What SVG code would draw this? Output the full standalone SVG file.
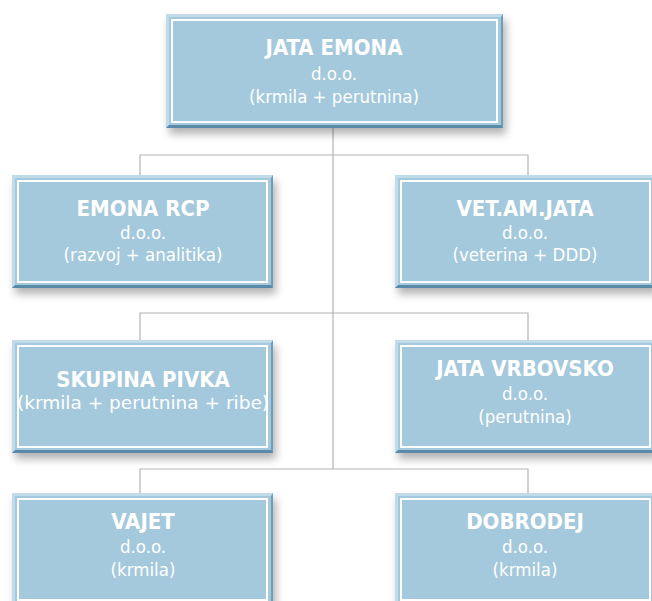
<svg xmlns="http://www.w3.org/2000/svg" xmlns:xlink="http://www.w3.org/1999/xlink" width="652" height="601" viewBox="0 0 652 601">
<style>
.t{font-family:"DejaVu Sans Condensed","DejaVu Sans",Tahoma,sans-serif;font-stretch:condensed;fill:#ffffff;text-anchor:middle}
.h{font-size:22px;font-weight:bold}
.s{font-size:18.5px}
.ln{stroke:#b4b4b4;stroke-width:1.2;fill:none}
.fill{fill:#a4c9dc}
.hi{fill:#c2dbe8}
.lo{fill:#5a8aa9}
.lo2{fill:#6e9cb9}
.inner{fill:none;stroke:#ffffff;stroke-width:2}
</style>
<defs>
<filter id="sh" x="-10%" y="-10%" width="130%" height="140%">
<feGaussianBlur stdDeviation="4"/>
</filter>
<g id="boxS">
<rect x="3" y="6" width="261" height="113" fill="#000" opacity="0.3" filter="url(#sh)"/>
<rect class="fill" x="0" y="0" width="261" height="113"/>
<rect class="hi" x="0" y="0" width="261" height="3"/>
<rect class="hi" x="0" y="0" width="3" height="113"/>
<polygon class="lo2" points="261,0 261,113 259,111 259,3"/>
<polygon class="lo" points="0,113 261,113 259,110 3,110"/>
<rect class="inner" x="6" y="6" width="249" height="101"/>
</g>
<g id="boxL">
<rect x="3" y="6" width="337" height="114" fill="#000" opacity="0.3" filter="url(#sh)"/>
<rect class="fill" x="0" y="0" width="337" height="114"/>
<rect class="hi" x="0" y="0" width="337" height="3"/>
<rect class="hi" x="0" y="0" width="3" height="114"/>
<polygon class="lo2" points="337,0 337,114 335,112 335,3"/>
<polygon class="lo" points="0,114 337,114 335,111 3,111"/>
<rect class="inner" x="6" y="6" width="325" height="102"/>
</g>
</defs>
<rect width="652" height="601" fill="#ffffff"/>
<g id="connectors">
<path class="ln" d="M333,128 V469"/>
<path class="ln" d="M140,175 V155 H528 V175"/>
<path class="ln" d="M140,340 V313 H528 V340"/>
<path class="ln" d="M140,493 V469 H528 V493"/>
</g>
<g id="jata-emona">
<use xlink:href="#boxL" x="166" y="14"/>
<text class="t h" x="334" y="55">JATA EMONA</text>
<text class="t s" x="334" y="80">d.o.o.</text>
<text class="t s" x="334" y="103">(krmila + perutnina)</text>
</g>
<g id="emona-rcp">
<use xlink:href="#boxS" x="12" y="175"/>
<text class="t h" x="143" y="216">EMONA RCP</text>
<text class="t s" x="143" y="239">d.o.o.</text>
<text class="t s" x="143" y="261">(razvoj + analitika)</text>
</g>
<g id="vet-am-jata">
<use xlink:href="#boxS" x="395" y="175"/>
<text class="t h" x="525" y="216">VET.AM.JATA</text>
<text class="t s" x="525" y="239">d.o.o.</text>
<text class="t s" x="525" y="261">(veterina + DDD)</text>
</g>
<g id="skupina-pivka">
<use xlink:href="#boxS" x="12" y="340"/>
<text class="t h" x="143" y="387">SKUPINA PIVKA</text>
<text class="t s" x="143" y="409" textLength="252" lengthAdjust="spacingAndGlyphs">(krmila + perutnina + ribe)</text>
</g>
<g id="jata-vrbovsko">
<use xlink:href="#boxS" x="395" y="340"/>
<text class="t h" x="525" y="376">JATA VRBOVSKO</text>
<text class="t s" x="525" y="400">d.o.o.</text>
<text class="t s" x="525" y="423">(perutnina)</text>
</g>
<g id="vajet">
<use xlink:href="#boxS" x="12" y="493"/>
<text class="t h" x="143" y="529">VAJET</text>
<text class="t s" x="143" y="553">d.o.o.</text>
<text class="t s" x="143" y="576">(krmila)</text>
</g>
<g id="dobrodej">
<use xlink:href="#boxS" x="395" y="493"/>
<text class="t h" x="525" y="529">DOBRODEJ</text>
<text class="t s" x="525" y="553">d.o.o.</text>
<text class="t s" x="525" y="576">(krmila)</text>
</g>
</svg>
